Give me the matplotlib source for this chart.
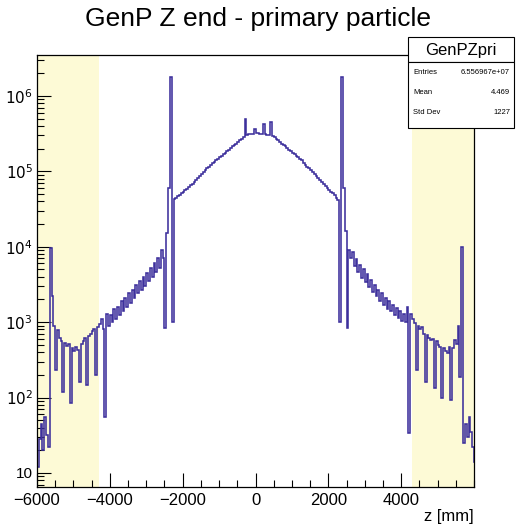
import matplotlib
matplotlib.use("Agg")
import matplotlib.pyplot as plt
from matplotlib.patches import Rectangle
from matplotlib.ticker import FixedLocator, FuncFormatter, MultipleLocator, LogLocator, NullFormatter
import numpy as np

plt.rcParams['font.family'] = ['Liberation Sans', 'DejaVu Sans']

# histogram GenPZpri, 50 mm bins from -6000 to 6000
bin_width = 50
z_min, z_max = -6000, 6000

# -6000 .. -4300
left_outer = [12, 28, 45, 20, 55, 32, 22, 9500, 2200, 900,
              230, 780, 620, 560, 118, 530, 480, 510, 85, 450,
              420, 470, 430, 160, 520, 560, 610, 147, 650, 700,
              760, 820, 200, 860]
# -4300 .. -2300
left_mid = [950, 1100, 800, 55, 1300, 900, 1250, 1000, 1500, 1100,
            1600, 1250, 1900, 1400, 2100, 1600, 2400, 1800, 2700, 2100,
            3100, 2400, 3500, 2700, 4000, 3000, 4500, 3500, 5200, 4000,
            6000, 4600, 7000, 5300, 9000, 7000, 830, 15000, 60000, 1800000]
# -2300 .. 2300
center = [1000, 43600, 45000, 47000, 49000, 51000, 54000, 56000, 59000, 62000,
          65000, 68000, 72000, 76000, 81000, 87000, 93000, 98000, 105000, 110000,
          115000, 123000, 129000, 135000, 141000, 148000, 155000, 162000, 170000, 178000,
          186000, 195000, 204000, 214000, 224000, 234000, 245000, 257000, 269000, 282000,
          500000, 300000, 309000, 314000, 318000, 370000, 320000, 320000, 318000, 315000,
          430000, 312000, 308000, 305000, 450000, 295000, 282000, 269000, 257000, 245000,
          234000, 224000, 214000, 204000, 195000, 186000, 178000, 170000, 162000, 155000,
          148000, 141000, 129000, 123000, 116000, 110000, 104000, 98000, 92000, 87000,
          82000, 77000, 72000, 68000, 64000, 60000, 57000, 54000, 51000, 48000,
          45000, 42000, 1000]
# 2300 .. 4300
right_mid = [1800000, 60000, 16000, 830, 9000, 7000, 8500, 5500, 6800, 4600,
             5800, 3900, 5000, 3400, 4300, 2900, 3600, 2500, 3100, 2200,
             2700, 1900, 2400, 1700, 2100, 1500, 1900, 1400, 1700, 1250,
             1550, 1150, 1400, 1050, 1300, 1000, 1600, 34, 1300, 1100]
# 4300 .. 6000
right_outer = [970, 230, 900, 800, 850, 700, 160, 680, 620, 580,
               600, 133, 560, 500, 470, 98, 450, 420, 390, 470,
               93, 450, 580, 520, 900, 190, 10000, 25, 45, 30,
               55, 35, 22, 14]

counts = np.array(left_outer + left_mid + center + right_mid + right_outer, dtype=float)
edges = np.arange(z_min, z_min + bin_width * (len(counts) + 1), bin_width)

# highlighted end regions
band_lo, band_hi = -4300, 4300

stats_title = "GenPZpri"
stats_rows = [("Entries", "6.556967e+07"), ("Mean", "4.469"), ("Std Dev", "1227")]

fig = plt.figure(figsize=(5.16, 5.25), dpi=100)
ax = fig.add_axes([37 / 516, 1 - 487 / 525, (474 - 37) / 516, (487 - 55) / 525])

ax.axvspan(z_min, band_lo, color='#fdfad6', lw=0, zorder=0)
ax.axvspan(band_hi, z_max, color='#fdfad6', lw=0, zorder=0)

ax.stairs(counts, edges, baseline=None, color='#3d309c', lw=1.15, zorder=2)

ax.set_yscale('log')
ax.set_xlim(z_min, z_max)
ax.set_ylim(6.5, 3.5e6)

ax.xaxis.set_major_locator(FixedLocator([-6000, -4000, -2000, 0, 2000, 4000]))
ax.xaxis.set_minor_locator(MultipleLocator(500))
ax.yaxis.set_major_locator(LogLocator(base=10, numticks=12))
ax.yaxis.set_minor_locator(LogLocator(base=10, subs=np.arange(2, 10), numticks=12))
ax.yaxis.set_minor_formatter(NullFormatter())

def ylab(v, pos):
    n = int(round(np.log10(v)))
    if n == 1:
        return '10'
    return r'$10^{%d}$' % n

ax.yaxis.set_major_formatter(FuncFormatter(ylab))

ax.tick_params(which='both', direction='in', top=False, right=False, labelsize=12, width=0.8)
ax.tick_params(which='major', length=10)
ax.tick_params(which='minor', length=5)
ax.tick_params(axis='x', pad=4)
ax.tick_params(axis='y', pad=3, labelsize=11)
for s in ax.spines.values():
    s.set_linewidth(0.9)

ax.set_xlabel('z [mm]', fontsize=12, loc='right', labelpad=1)

fig.text(0.5, 1 - 19 / 525, 'GenP Z end - primary particle', fontsize=19,
         ha='center', va='center')

# stats box
bx0, bx1 = 408 / 516, 514 / 516
by_top, by_mid, by_bot = 1 - 37 / 525, 1 - 62 / 525, 1 - 128 / 525
fig.patches.append(Rectangle((bx0, by_mid), bx1 - bx0, by_top - by_mid, transform=fig.transFigure,
                             facecolor='white', edgecolor='black', lw=0.8, zorder=5))
fig.patches.append(Rectangle((bx0, by_bot), bx1 - bx0, by_mid - by_bot, transform=fig.transFigure,
                             facecolor='white', edgecolor='black', lw=0.8, zorder=5))
fig.text((bx0 + bx1) / 2, 1 - 50 / 525, stats_title, fontsize=12, ha='center', va='center', zorder=6)
for i, (k, v) in enumerate(stats_rows):
    yy = 1 - (73 + 19.5 * i) / 525
    fig.text(bx0 + 5 / 516, yy, k, fontsize=5.5, ha='left', va='center', zorder=6)
    fig.text(bx1 - 4 / 516, yy, v, fontsize=5.5, ha='right', va='center', zorder=6)

plt.savefig('out.png', dpi=100)
